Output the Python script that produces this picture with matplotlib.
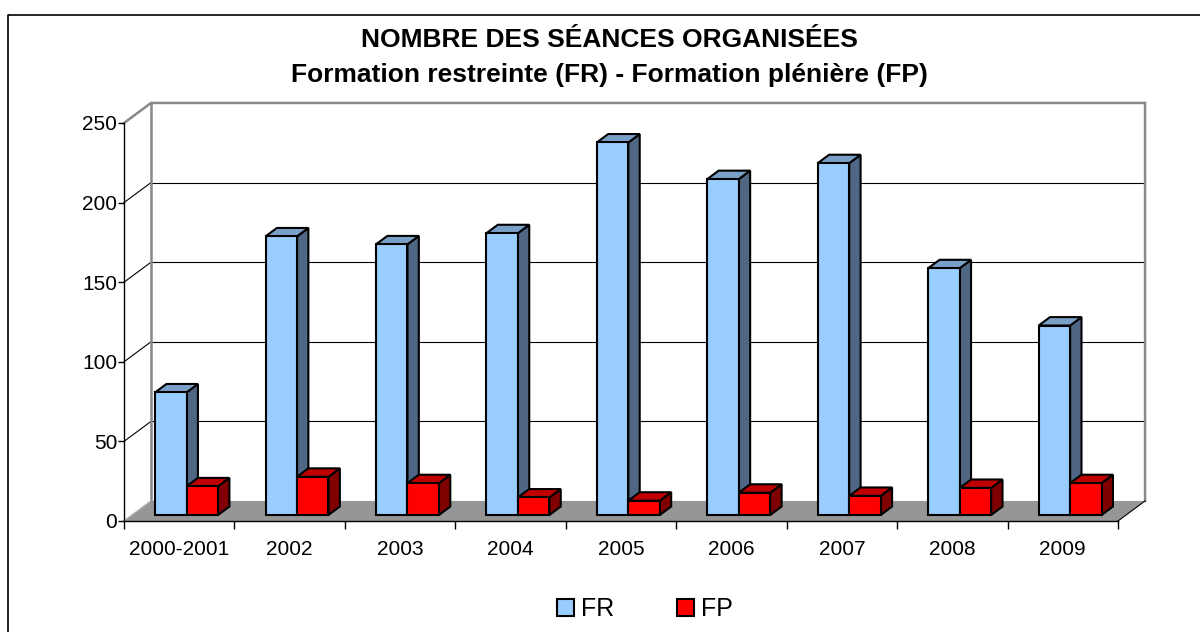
import matplotlib
matplotlib.use('Agg')
import matplotlib.pyplot as plt
import matplotlib.patches as patches
from matplotlib.lines import Line2D
import numpy as np

plt.rcParams['font.family'] = ['Liberation Sans', 'DejaVu Sans']

# data
categories = ['2000-2001', '2002', '2003', '2004', '2005', '2006', '2007', '2008', '2009']
fr_values = [77, 175, 170, 177, 234, 211, 221, 155, 119]
fp_values = [18, 24, 20, 11, 9, 14, 12, 17, 20]
y_ticks = [0, 50, 100, 150, 200, 250]

# colours (front, side, top)
fr_cols = ('#99CCFF', '#4F6685', '#7BA0C8')
fp_cols = ('#FF0000', '#800000', '#C00000')

fig = plt.figure(figsize=(12, 6.32), dpi=100)
W, H = 1200, 632
ax = fig.add_axes([124 / W, (H - 521) / H, (1118 - 124) / W, (521 - 123) / H])
n = len(categories)
ax.set_xlim(0, n)
ax.set_ylim(0, 250)

# depth of the 3d box in data units
DX, DY = 0.245, 12.6
f0, f1 = 0.30, 0.72     # bar front / back depth fraction
bw = 0.285
off_fr, off_fp = 0.208, 0.493

# back wall, floor, left wall
ax.add_patch(patches.Rectangle((DX, DY), n, 250, fc='white', ec='none', zorder=0, clip_on=False))
ax.add_patch(patches.Polygon([(0, 0), (n, 0), (n + DX, DY), (DX, DY)], closed=True,
                             fc='#969696', ec='none', zorder=1, clip_on=False))
for v in y_ticks[1:-1]:
    ax.plot([DX, n + DX], [v + DY, v + DY], color='black', lw=0.8, zorder=1, clip_on=False)
    ax.plot([0, DX], [v, v + DY], color='black', lw=0.8, zorder=1, clip_on=False)
grey = '#888888'
ax.plot([0, DX, n + DX, n + DX], [250, 250 + DY, 250 + DY, DY], color=grey, lw=1.8,
        zorder=1, clip_on=False, solid_joinstyle='miter')
ax.plot([DX, DX], [DY, 250 + DY], color=grey, lw=1.8, zorder=1, clip_on=False)
ax.plot([0, DX], [0, DY], color='#aaaaaa', lw=1.0, zorder=1, clip_on=False)
ax.plot([n, n + DX], [0, DY], color='black', lw=0.8, zorder=1, clip_on=False)


def bar3d(left, value, cols, z, label=None):
    x0 = left + f0 * DX
    b = f0 * DY
    d = (f1 - f0)
    cont = ax.bar(x0, value, width=bw, bottom=b, align='edge', color=cols[0],
                  edgecolor='black', lw=1.5, zorder=z + 0.2, label=label)
    xr = x0 + bw
    top = b + value
    side = [(xr, b), (xr + d * DX, b + d * DY), (xr + d * DX, top + d * DY), (xr, top)]
    lid = [(x0, top), (x0 + d * DX, top + d * DY), (xr + d * DX, top + d * DY), (xr, top)]
    ax.add_patch(patches.Polygon(side, closed=True, fc=cols[1], ec='black', lw=1.5,
                                 zorder=z, clip_on=False))
    ax.add_patch(patches.Polygon(lid, closed=True, fc=cols[2], ec='black', lw=1.5,
                                 zorder=z + 0.1, clip_on=False))
    return cont


handles = []
for i in range(n):
    h1 = bar3d(i + off_fr, fr_values[i], fr_cols, 3 + i, 'FR' if i == 0 else None)
    h2 = bar3d(i + off_fp, fp_values[i], fp_cols, 3.5 + i, 'FP' if i == 0 else None)
    if i == 0:
        handles = [h1, h2]

# axes
for s in ['top', 'right']:
    ax.spines[s].set_visible(False)
ax.spines['left'].set_linewidth(1.0)
ax.spines['bottom'].set_linewidth(1.0)
ax.spines['left'].set_zorder(2)
ax.spines['bottom'].set_zorder(2)
ax.set_yticks(y_ticks)
ax.tick_params(axis='y', length=4, width=1, pad=1, labelsize=15)
ax.set_xticks(np.arange(n) + 0.5)
ax.set_xticklabels(categories)
ax.set_xticks(np.arange(n + 1), minor=True)
ax.tick_params(axis='x', which='major', length=0, pad=14, labelsize=15)
ax.tick_params(axis='x', which='minor', length=6, width=1)
ax.patch.set_visible(False)

# titles
fig.text(609 / W, 1 - 40 / H, 'NOMBRE DES SÉANCES ORGANISÉES', ha='center', va='center',
         fontsize=19, fontweight='bold')
fig.text(609 / W, 1 - 75 / H, 'Formation restreinte (FR) - Formation plénière (FP)',
         ha='center', va='center', fontsize=19, fontweight='bold')

# legend
fig.legend(handles=handles, labels=['FR', 'FP'], loc='center', bbox_to_anchor=(645 / W, 1 - 609 / H),
           ncol=2, frameon=False, fontsize=18, handlelength=0.68, handleheight=0.68,
           handletextpad=0.3, columnspacing=2.5)

# outer frame
top_y = 1 - 15 / H
fig.add_artist(Line2D([8 / W, 8 / W, 1], [0, top_y, top_y], color='black', lw=1.2))

fig.savefig('out.png', dpi=100)
